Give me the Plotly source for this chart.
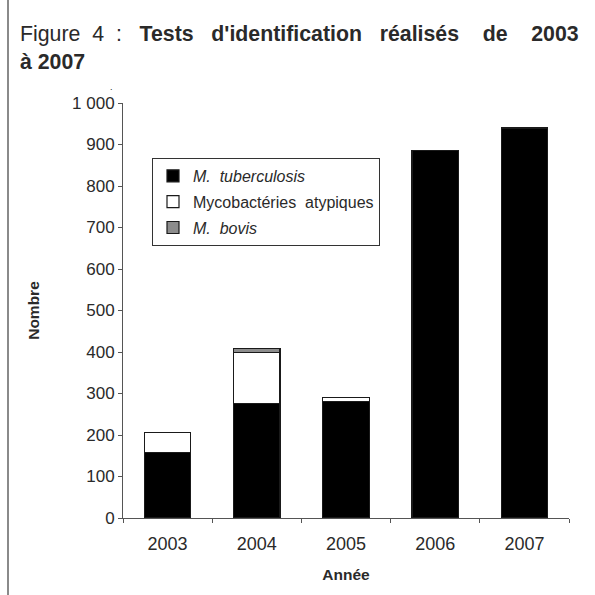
import plotly.graph_objects as go

# Identification tests per year, stacked by species
years = ["2003", "2004", "2005", "2006", "2007"]
tuberculosis = [157, 275, 280, 885, 940]
atypiques = [49, 124, 10, 0, 0]
bovis = [0, 9, 0, 0, 0]

y_ticks = [0, 100, 200, 300, 400, 500, 600, 700, 800, 900, 1000]
y_tick_text = ["0", "100", "200", "300", "400", "500", "600", "700", "800", "900", "1 000"]

FONT = "Liberation Sans, Arial, sans-serif"
TXT = "#2a2a2a"

W, H = 595, 595
ML, MR, MT, MB = 123, 26, 103, 77
PW, PH = W - ML - MR, H - MT - MB

NB = "\u00a0"

fig = go.Figure()
series = [
    ("<i>M." + NB * 2 + "tuberculosis</i>", tuberculosis, "#000000"),
    ("Mycobactéries" + NB * 2 + "atypiques", atypiques, "#ffffff"),
    ("<i>M." + NB * 2 + "bovis</i>", bovis, "#8c8c8c"),
]
for i, (name, vals, col) in enumerate(series):
    fig.add_trace(go.Bar(
        x=years, y=vals, name=name, legendgroup=str(i),
        marker=dict(color=col, line=dict(color="#1a1a1a", width=1.2)),
    ))

# justified heading: widened word gaps
G2, G3, G4 = NB * 2, NB * 3, NB * 4
title_text = ("Figure" + G2 + "4" + G2 + ":" + G3
              + "<b>Tests" + G3 + "d'identification" + G3 + "réalisés" + G4 + "de" + G4 + "2003</b>"
              + "<br><b>à" + NB + "2007</b>")

fig.update_layout(
    width=W, height=H,
    margin=dict(l=ML, r=MR, t=MT, b=MB),
    paper_bgcolor="white", plot_bgcolor="white",
    barmode="stack", bargap=0.48,
    font=dict(family=FONT, color=TXT, size=16),
    title=dict(
        text=title_text,
        x=20 / W, xanchor="left", xref="container",
        y=1 - 41 / H, yanchor="top", yref="container",
        font=dict(family=FONT, size=21.3, color=TXT),
    ),
    showlegend=True,
    legend=dict(
        x=(152 - ML) / PW, xanchor="left",
        y=(H - MB - 158) / PH, yanchor="top",
        bordercolor="#333333", borderwidth=1, bgcolor="white",
        font=dict(family=FONT, size=16, color=TXT),
        traceorder="grouped", tracegroupgap=2,
    ),
    xaxis=dict(
        showline=True, linecolor="#555555", linewidth=1,
        ticks="outside", ticklen=4, tickcolor="#555555", tickson="boundaries",
        tickfont=dict(size=18), ticklabelstandoff=9,
        title=dict(text="<b>Année</b>", font=dict(size=15.5), standoff=16),
        showgrid=False,
    ),
    yaxis=dict(
        range=[0, 1000], showline=True, linecolor="#555555", linewidth=1,
        ticks="outside", ticklen=4, tickcolor="#555555",
        tickvals=y_ticks, ticktext=y_tick_text, tickfont=dict(size=17),
        title=dict(text="<b>Nombre</b>", font=dict(size=15.5), standoff=28),
        showgrid=False, zeroline=False,
    ),
)

# stray dot above the top tick label
fig.add_annotation(text=".", xref="paper", yref="paper",
                   x=-(ML - 108) / PW, y=1 + (MT - 80) / PH,
                   showarrow=False, font=dict(size=9, color=TXT))

# left frame rule of the figure panel
fig.add_shape(type="line", xref="paper", yref="paper",
              x0=-(ML - 8) / PW, x1=-(ML - 8) / PW,
              y0=-MB / PH, y1=1 + MT / PH,
              line=dict(color="#8a8a8a", width=2))

fig.write_html("out.html")
